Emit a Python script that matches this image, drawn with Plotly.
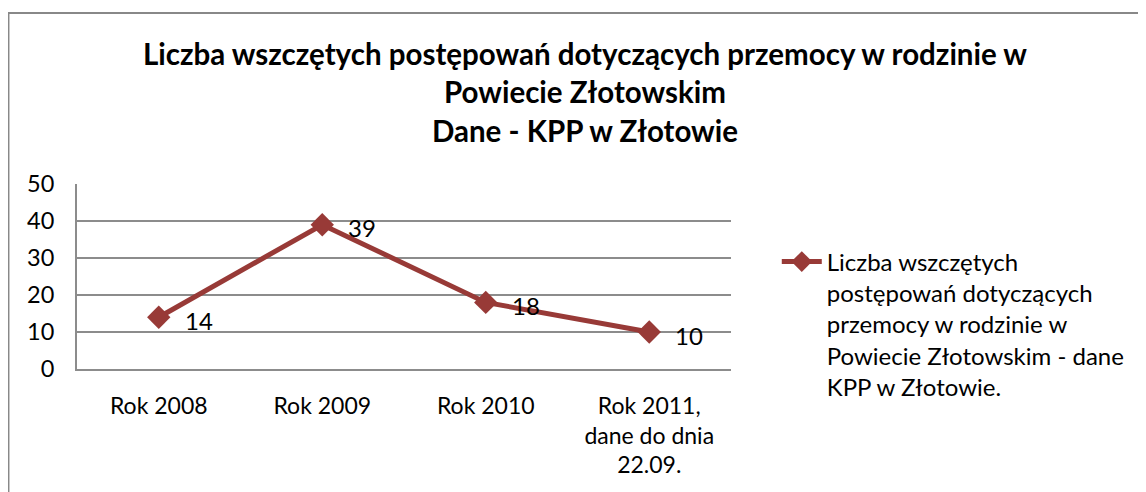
import plotly.graph_objects as go

# data
years = ["Rok 2008", "Rok 2009", "Rok 2010", "Rok 2011,<br>dane do dnia<br>22.09."]
cases = [14, 39, 18, 10]
y_ticks = [0, 10, 20, 30, 40, 50]

series_name = ("Liczba wszczętych<br>postępowań dotyczących<br>przemocy w rodzinie w<br>"
               "Powiecie Złotowskim - dane<br>KPP w Złotowie.")
title_text = ("Liczba wszczętych postępowań dotyczących przemocy w rodzinie w<br>"
              "Powiecie Złotowskim<br>Dane - KPP w Złotowie")

red = "#983a37"
grid = "#8c8c8c"
font = "Lato"

# page has an 8px body margin, so the figure is a bit smaller than the window
W, H = 1138, 484

fig = go.Figure()
fig.add_trace(go.Scatter(
    x=years, y=cases,
    mode="lines+markers",
    name=series_name,
    line=dict(color=red, width=5),
    marker=dict(symbol="diamond", size=18, color=red),
))

# data labels to the right of each point
for x, y in zip(years, cases):
    fig.add_annotation(x=x, y=y, text=str(y), showarrow=False,
                       xshift=40, yshift=-3,
                       font=dict(family=font, size=24, color="#000"))

# outer chart border (cropped at right and bottom)
fig.add_shape(type="rect", xref="paper", yref="paper",
              x0=-0.1048, x1=2, y0=-3, y1=1.924,
              line=dict(color="#888888", width=2))

fig.update_layout(
    width=W, height=H,
    margin=dict(l=69, r=415, t=176, b=123),
    paper_bgcolor="white", plot_bgcolor="white",
    font=dict(family=font, size=23, color="#000"),
    title=dict(text="<b>" + title_text + "</b>", x=0.507, xanchor="center",
               y=1 - 57 / H, yanchor="middle", yref="container",
               font=dict(family=font, size=29.5, color="#000")),
    showlegend=True,
    legend=dict(x=1.07, xanchor="left", y=0.70, yanchor="top",
                valign="top", font=dict(family=font, size=24),
                itemwidth=40, tracegroupgap=0),
    xaxis=dict(type="category", range=[-0.5, 3.5], showgrid=False,
               showline=True, linecolor=grid, linewidth=2,
               ticks="", ticklabelstandoff=15,
               tickfont=dict(family=font, size=23)),
    yaxis=dict(range=[0, 50], tickvals=y_ticks, showgrid=True,
               gridcolor=grid, gridwidth=2, zeroline=False,
               showline=True, linecolor=grid, linewidth=2,
               ticks="", ticklabelstandoff=16,
               tickfont=dict(family=font, size=23.5)),
)

fig.write_html("out.html")
